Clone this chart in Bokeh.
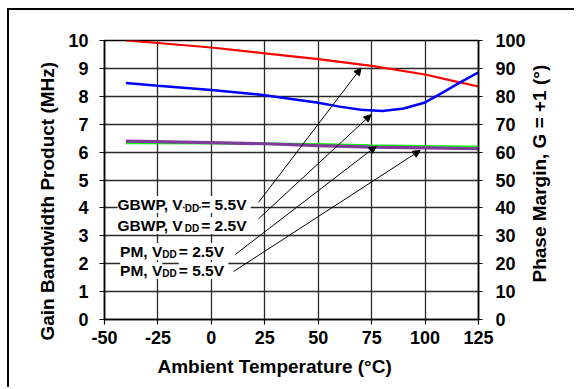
import math
from bokeh.plotting import figure
from bokeh.layouts import row
from bokeh.models import (Range1d, LinearAxis, FixedTicker, Arrow, NormalHead, Title,
                          ColumnDataSource)
from bokeh.core.properties import value
from bokeh.embed import file_html
from bokeh.resources import INLINE

# ---- data ----
temp_gbwp55 = [-40, -25, 0, 25, 50, 75, 100, 112, 125]
gbwp_55 = [10.0, 9.91, 9.75, 9.54, 9.33, 9.09, 8.78, 8.57, 8.35]

temp_gbwp25 = [-40, -25, 0, 25, 50, 60, 70, 80, 90, 100, 108, 116, 125]
gbwp_25 = [8.48, 8.38, 8.23, 8.04, 7.77, 7.63, 7.52, 7.47, 7.56, 7.78, 8.12, 8.48, 8.86]

temp_pm = [-40, 0, 25, 50, 75, 100, 125]
pm_25 = [63.3, 63.2, 63.0, 62.8, 62.4, 62.1, 61.9]
pm_55 = [63.9, 63.4, 63.0, 62.3, 61.8, 61.5, 61.2]

x_ticks = [-50, -25, 0, 25, 50, 75, 100, 125]
left_ticks = [0, 1, 2, 3, 4, 5, 6, 7, 8, 9, 10]
right_ticks = [0, 10, 20, 30, 40, 50, 60, 70, 80, 90, 100]

# annotation arrows: (tail temp, tail value) -> (tip temp, tip value), left-axis units
arrow_tail_x = [22.1, 22.1, 11.2, 10.4]
arrow_tail_y = [4.20, 3.61, 2.33, 1.72]
arrow_tip_x = [70.0, 74.7, 77.1, 97.7]
arrow_tip_y = [9.01, 7.34, 6.21, 6.06]

# callout texts
label_x = [-43.9, -43.9, -42.7, -42.7]
label_y = [4.12, 3.37, 2.44, 1.76]
label_head = ["GBWP, V", "GBWP, V", "PM, V", "PM, V"]
label_sub = ["DD", "DD", "DD", "DD"]
label_tail = [" = 5.5V", " = 2.5V", " = 2.5V", " = 5.5V"]

FONT = "Liberation Sans"

p = figure(width=519, height=379, output_backend="svg", toolbar_location=None,
           x_range=Range1d(-50, 125), y_range=Range1d(0, 10),
           min_border_left=95, min_border_right=50, min_border_top=30, min_border_bottom=70,
           margin=(8, 0, 0, 7),
           styles={"border-left": "2px solid black", "border-top": "2px solid black"})
p.extra_y_ranges = {"pm": Range1d(0, 100)}
p.background_fill_color = "white"
p.border_fill_color = "white"
p.outline_line_color = "black"
p.outline_line_width = 1.5

# axes
xa = p.xaxis[0]
xa.ticker = FixedTicker(ticks=x_ticks)
xa.major_label_overrides = {-50: "-50", -25: "-25"}
ya = p.yaxis[0]
ya.ticker = FixedTicker(ticks=left_ticks)
ra = LinearAxis(y_range_name="pm", ticker=FixedTicker(ticks=right_ticks))
p.add_layout(ra, "right")

for ax, standoff, tout in ((xa, 6, 5), (ya, 11, 5), (ra, 13, 4)):
    ax.major_tick_in = 0
    ax.major_tick_out = tout
    ax.minor_tick_line_color = None
    ax.axis_line_color = "black"
    ax.axis_line_width = 1.5
    ax.major_tick_line_color = "black"
    ax.major_tick_line_width = 1.2
    ax.major_label_text_font = FONT
    ax.major_label_text_font_style = "bold"
    ax.major_label_text_font_size = "18px"
    ax.major_label_text_color = "black"
    ax.major_label_standoff = standoff

p.xgrid.ticker = FixedTicker(ticks=x_ticks)
p.ygrid.ticker = FixedTicker(ticks=left_ticks)
for g in (p.xgrid[0], p.ygrid[0]):
    g.grid_line_color = "#2a2a2a"
    g.grid_line_width = 1.3

# curves
p.line(temp_gbwp55, gbwp_55, line_color="#FF0000", line_width=2.2)
p.line(temp_gbwp25, gbwp_25, line_color="#0000FF", line_width=2.5)
p.line(temp_pm, pm_25, line_color="#19F019", line_width=2.5, y_range_name="pm")
p.line(temp_pm, pm_55, line_color="#7E3C99", line_width=3.2, y_range_name="pm")

# callout labels with subscripts (text glyphs with white backgrounds)
PX_PER_Y = 279 / 10.0
head_w = [67.2 if h.startswith("GBWP") else 42.2 for h in label_head]
src = ColumnDataSource(dict(
    x=label_x, y=label_y, head=label_head, sub=label_sub, tail=label_tail,
    ysub=[v - 3.5 / PX_PER_Y for v in label_y],
    off_sub=head_w, off_tail=[w + 16.5 for w in head_w]))
common = dict(text_font=value(FONT), text_font_style="bold", text_color="black",
              text_baseline="alphabetic", text_align="left",
              background_fill_color="white", source=src)
p.text(x="x", y="y", text="head", text_font_size=value("15.5px"), **common)
p.text(x="x", y="ysub", text="sub", x_offset="off_sub", text_font_size=value("10px"), **common)
p.text(x="x", y="y", text="tail", x_offset="off_tail", text_font_size=value("15.5px"), **common)

for x0, y0, x1, y1 in zip(arrow_tail_x, arrow_tail_y, arrow_tip_x, arrow_tip_y):
    p.add_layout(Arrow(end=NormalHead(size=7, fill_color="black", line_color="black", line_width=1),
                       x_start=x0, y_start=y0, x_end=x1, y_end=y1,
                       line_color="black", line_width=1))

# axis titles
p.add_layout(Title(text="Ambient Temperature (°C)", align="left", offset=53,
                   text_font=FONT, text_font_style="bold", text_font_size="19px",
                   text_color="black", standoff=15), "below")
p.add_layout(Title(text="Gain Bandwidth Product (MHz)", align="left", offset=-21,
                   text_font=FONT, text_font_style="bold", text_font_size="19px",
                   text_color="black", standoff=15), "left")

# narrow companion figure carrying the right-hand axis title (reads bottom-to-top)
side = figure(width=48, height=379, output_backend="svg", toolbar_location=None,
              x_axis_type=None, y_axis_type=None,
              x_range=Range1d(0, 1), y_range=Range1d(0, 1),
              min_border_left=0, min_border_right=0, min_border_top=30, min_border_bottom=70,
              margin=(8, 0, 0, 0), styles={"border-top": "2px solid black"})
side.outline_line_color = None
side.background_fill_color = "white"
side.border_fill_color = "white"
side.add_layout(Title(text="Phase Margin, G = +1 (°)", align="left", offset=37,
                      text_font=FONT, text_font_style="bold", text_font_size="19px",
                      text_color="black", standoff=0), "left")

layout = row(p, side, spacing=0)
open("out.html", "w").write(file_html(layout, INLINE))
